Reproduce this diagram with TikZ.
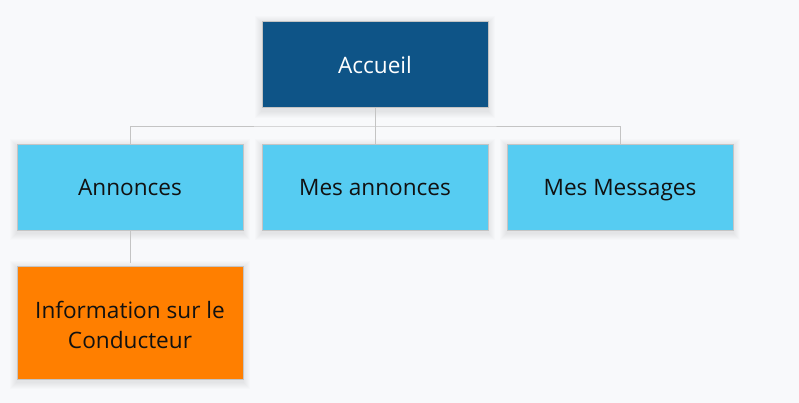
\documentclass[tikz,border=0pt]{standalone}
\usepackage{fontspec}
\setmainfont{Open Sans}
\definecolor{bg}{HTML}{F8F9FB}
\definecolor{darkb}{HTML}{0E5487}
\definecolor{lightb}{HTML}{56CCF2}
\definecolor{orng}{HTML}{FF7F00}
\definecolor{edge}{HTML}{C4C4C4}
\definecolor{txt}{HTML}{111111}
\newcommand{\softshadow}[1]{%
  \foreach \k in {1,...,7}{%
    \fill[black,opacity=0.013] ([xshift=-\k pt,yshift=\k pt-2pt]#1.north west) rectangle ([xshift=\k pt,yshift=-\k pt-3pt]#1.south east);
  }}
\begin{document}
\begin{tikzpicture}[x=1pt,y=-1pt,
  box/.style={draw=edge,line width=0.8pt,minimum width=226pt,minimum height=86pt,inner sep=0pt,
    font=\fontsize{22.6}{31}\selectfont,align=center,text=txt},
  one/.style={text height=18pt,text depth=0pt},
  lbl/.style={font=\fontsize{22.6}{30.7}\selectfont,align=center,text=txt,inner sep=0pt},
  conn/.style={draw=edge,line width=0.9pt}]
\fill[bg] (0,0) rectangle (799,403);
\useasboundingbox (0,0) rectangle (799,403);
\path (375,64.5) node[box,one,draw=none] (acc0) {};
\path (130,187) node[box,one,draw=none] (ann0) {};
\path (375,187) node[box,one,draw=none] (mes0) {};
\path (620,187) node[box,one,draw=none] (msg0) {};
\path (130,322.5) node[box,draw=none,minimum height=113pt] (info0) {};
\softshadow{acc0}\softshadow{ann0}\softshadow{mes0}\softshadow{msg0}\softshadow{info0}
\node[box,one,fill=darkb,text=white] (acc) at (375,64.5) {Accueil};
\node[box,one,fill=lightb] (ann) at (130,187) {Annonces};
\node[box,one,fill=lightb] (mes) at (375,187) {Mes annonces};
\node[box,one,fill=lightb] (msg) at (620,187) {Mes Messages};
\node[box,fill=orng,minimum height=113pt] (info) at (130,322.5) {};
\node[lbl] (infot) at ([yshift=-2.5pt]info.center) {Information sur le\\Conducteur};
\coordinate (hj) at (375,126);
\coordinate (gap) at (130,263);
\draw[conn] (acc.south) -- (hj);
\draw[conn] (ann.north) |- (hj) -| (msg.north);
\draw[conn] (hj) -- (mes.north);
\draw[conn] (ann.south) -- (gap);
\end{tikzpicture}
\end{document}
